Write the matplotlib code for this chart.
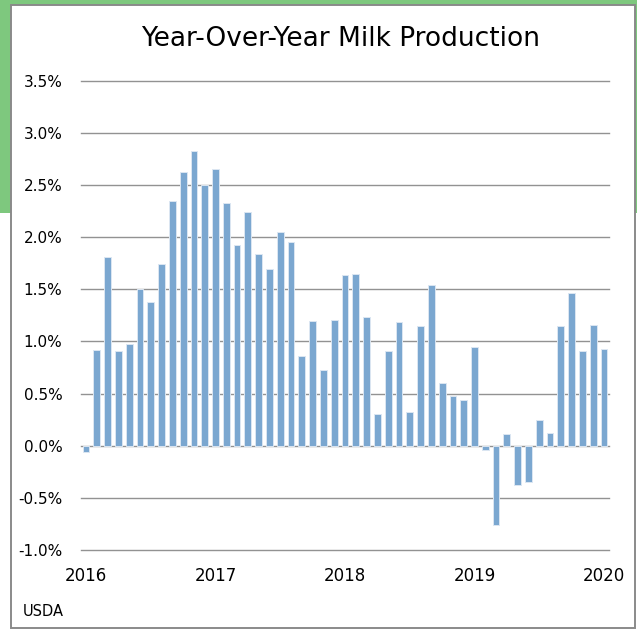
"""Year-over-year milk production bar chart (monthly, Jan 2016 - Jan 2020)."""

import matplotlib

matplotlib.use("Agg")
import matplotlib.pyplot as plt
import numpy as np
from matplotlib.patches import Rectangle

# Monthly YoY change in milk production, percent
yoy_change = [
    -0.06, 0.92, 1.81, 0.91, 0.98, 1.50, 1.38, 1.74, 2.35, 2.62, 2.83, 2.50,
    2.65, 2.33, 1.92, 2.24, 1.84, 1.69, 2.05, 1.95, 0.86, 1.20, 0.73, 1.21,
    1.64, 1.65, 1.23, 0.30, 0.91, 1.19, 0.32, 1.15, 1.54, 0.60, 0.48, 0.44,
    0.95, -0.04, -0.76, 0.11, -0.38, -0.35, 0.25, 0.12, 1.15, 1.46, 0.91, 1.16,
    0.93,
]
year_labels = ["2016", "2017", "2018", "2019", "2020"]
y_ticks = [-1.0, -0.5, 0.0, 0.5, 1.0, 1.5, 2.0, 2.5, 3.0, 3.5]

TITLE = "Year-Over-Year Milk Production"
SOURCE = "USDA"

BAR_COLOR = "#7ba7d0"
GRID_COLOR = "#929292"
W, H = 637, 629


def main() -> None:
    fig = plt.figure(figsize=(W / 100, H / 100), dpi=100)
    fig.patch.set_facecolor("white")

    # green backdrop and the bordered white card on top of it
    fig.patches.append(Rectangle((0, 1 - 213 / H), 1, 213 / H,
                                 transform=fig.transFigure,
                                 facecolor="#7ec87e", edgecolor="none", zorder=0))
    fig.patches.append(Rectangle((11 / W, 1 / H), 624 / W, 623 / H,
                                 transform=fig.transFigure,
                                 facecolor="white", edgecolor="#8a8a8a",
                                 linewidth=1.4, zorder=1))

    ax = fig.add_axes([80.6 / W, 1 - 550 / H, 528.8 / W, 469.3 / H])
    ax.set_zorder(3)
    ax.set_facecolor("none")

    x = np.arange(len(yoy_change))
    ax.bar(x, yoy_change, width=0.63, color=BAR_COLOR,
           edgecolor="#dbe6f2", linewidth=0.7, zorder=3)

    ax.set_xlim(-0.5, len(yoy_change) - 0.5)
    ax.set_ylim(y_ticks[0], y_ticks[-1])
    ax.set_yticks(y_ticks)
    ax.set_yticklabels([f"{v:.1f}%" for v in y_ticks])
    ax.set_xticks([i * 12 for i in range(len(year_labels))])
    ax.set_xticklabels(year_labels)

    for v in y_ticks:
        ax.axhline(v, color=GRID_COLOR, linewidth=1.0, zorder=2, clip_on=False)

    for s in ax.spines.values():
        s.set_visible(False)
    ax.tick_params(axis="y", length=0, pad=13, labelsize=11)
    ax.tick_params(axis="x", length=0, pad=12, labelsize=12)

    fig.text(341 / W, 1 - 39 / H, TITLE, ha="center", va="center",
             fontsize=19, color="black", zorder=4)
    fig.text(23 / W, 1 - 611 / H, SOURCE, ha="left", va="center",
             fontsize=10.5, color="black", zorder=4)

    fig.savefig("out.png", dpi=100)


if __name__ == "__main__":
    main()
